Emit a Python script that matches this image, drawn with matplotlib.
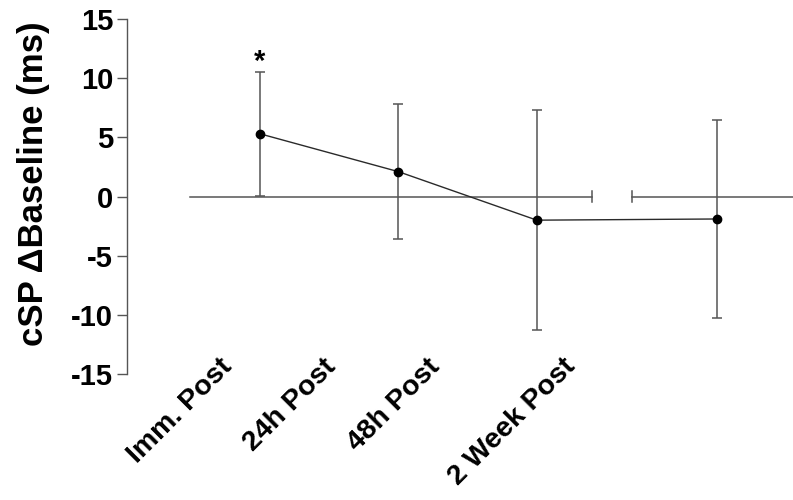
import matplotlib
matplotlib.use("Agg")
import matplotlib.pyplot as plt

plt.rcParams['font.family'] = ['Liberation Sans', 'DejaVu Sans']
plt.rcParams['font.weight'] = 'bold'

# change in cSP from baseline (ms), mean and SD per time point
timepoints = ['Imm. Post', '24h Post', '48h Post', '2 Week Post']
mean_change = [5.3, 2.1, -2.0, -1.9]
sd_change = [5.25, 5.7, 9.3, 8.4]
significant = [True, False, False, False]

# x positions: gap before the last group (broken axis)
x_pos = [0, 1, 2, 3.3]

fig = plt.figure(figsize=(7.93, 5.0), dpi=100)
ax = fig.add_axes([127 / 793, 126 / 500, 666 / 793, 355 / 500])

axis_col = '#555555'

# zero line, split where the axis is broken
break_lo, break_hi = 2.40, 2.69
ax.plot([-0.505, break_lo], [0, 0], color=axis_col, lw=1.1, zorder=1)
ax.plot([break_hi, 3.9], [0, 0], color=axis_col, lw=1.1, zorder=1, clip_on=True)
for bx in (break_lo, break_hi):
    ax.plot([bx, bx], [-0.5, 0.5], color=axis_col, lw=1.1, zorder=1)

ax.errorbar(x_pos, mean_change, yerr=sd_change, fmt='none', ecolor=axis_col,
            elinewidth=1.1, capsize=3.6, capthick=1.1, zorder=2)
ax.plot(x_pos, mean_change, color='#2a2a2a', lw=1.0, marker='o', ms=6,
        mfc='black', mec='black', zorder=3)

for x, m, s, sig in zip(x_pos, mean_change, sd_change, significant):
    if sig:
        ax.text(x, m + s + 0.15, '*', ha='center', va='baseline', fontsize=21,
                fontweight='bold')

ax.set_xlim(-0.96, 3.85)
ax.set_ylim(-15, 15)
ax.set_yticks(range(-15, 16, 5))
ax.set_yticklabels([str(v) for v in range(-15, 16, 5)], fontsize=21,
                   fontweight='bold')
ax.tick_params(axis='y', length=7, width=1.0, color=axis_col, pad=3)

# category labels sit on a tighter spacing than the points
label_pos = [-0.23 + 0.751 * x for x in x_pos]
ax.set_xticks(label_pos)
ax.set_xticklabels(timepoints, rotation=45, ha='right', va='center',
                   rotation_mode='anchor', fontsize=20.5, fontweight='bold')
ax.tick_params(axis='x', length=0, pad=-8)

for side in ('top', 'right', 'bottom'):
    ax.spines[side].set_visible(False)
ax.spines['left'].set_color(axis_col)
ax.spines['left'].set_linewidth(1.0)

fig.text(34 / 793, 1 - 184 / 500, 'cSP \u0394Baseline (ms)', rotation=90,
         ha='center', va='center', fontsize=25, fontweight='bold')

fig.savefig('out.png', dpi=100)
